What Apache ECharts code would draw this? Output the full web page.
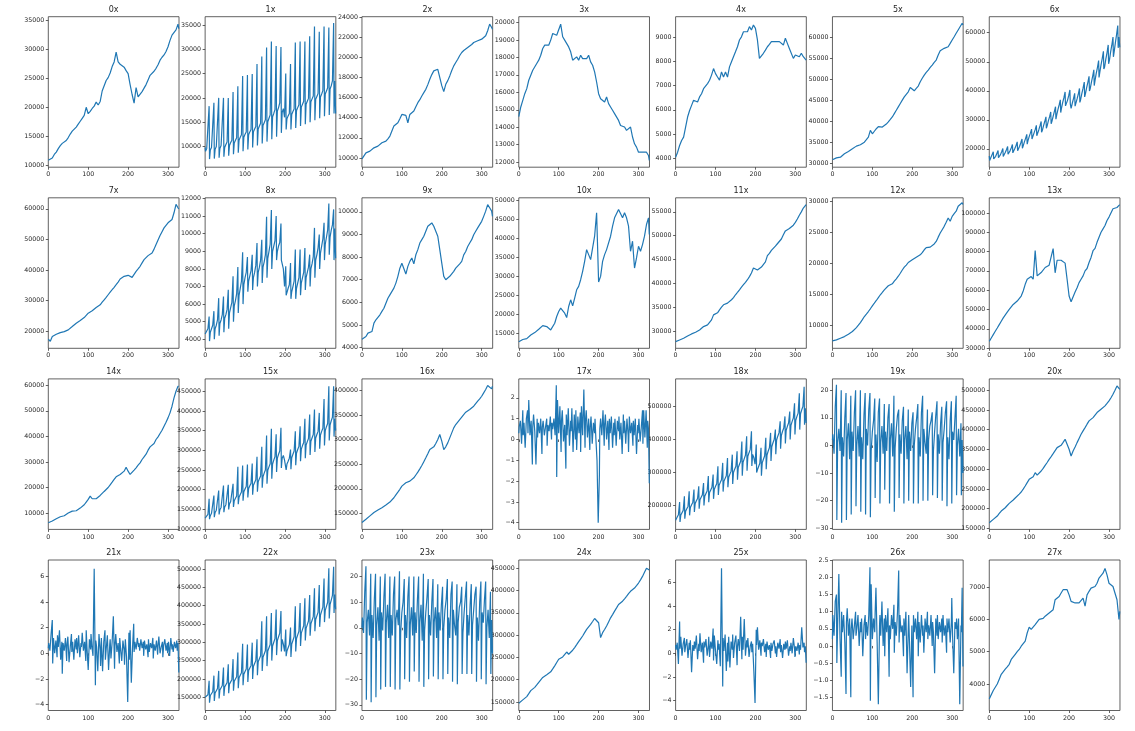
<!DOCTYPE html>
<html><head><meta charset="utf-8">
<script src="https://cdn.jsdelivr.net/npm/echarts@6/dist/echarts.min.js"></script>
<style>html,body{margin:0;padding:0;background:#fff}#c{width:1135px;height:731px}</style>
</head><body><div id="c"></div>
<script>
// x grids
const XS5 = [0,5,10,15,20,25,30,35,40,45,50,55,60,65,70,75,80,85,90,95,100,105,110,115,120,125,130,135,140,145,150,155,160,165,170,175,180,185,190,195,200,205,210,215,220,225,230,235,240,245,250,255,260,265,270,275,280,285,290,295,300,305,310,315,320,325,327];
const XSP = [0,
1,4,7,10,11, 13,16,19,22,23, 25,28,31,34,35, 37,40,43,46,47, 49,52,55,58,59, 61,64,67,70,71,
73,76,79,82,83, 85,88,91,94,95, 97,100,103,106,107, 109,112,115,118,119, 121,124,127,130,131,
133,136,139,142,143, 145,148,151,154,155, 157,160,163,166,167, 169,172,175,178,179, 181,184,187,190,191,
193,196,199,202,203, 205,208,211,214,215, 217,220,223,226,227, 229,232,235,238,239, 241,244,247,250,251,
253,256,259,262,263, 265,268,271,274,275, 277,280,283,286,287, 289,292,295,298,299, 301,304,307,310,311,
313,316,319,322,323, 325,327];

// series values
const S0 = [10900,10900,11300,11900,12300,12900,13400,13800,13900,14300,14800,15400,15900,16200,16600,17100,17600,18100,18600,20000,18900,19300,19800,20200,20900,20400,21000,22800,22900,24600,25100,25900,27000,27800,29500,27800,27400,27100,26900,26300,25800,23900,22200,20700,23400,21800,21900,22700,23300,23900,24700,25500,25400,26200,26700,27300,28100,28600,29000,29600,30400,31500,32400,32100,33300,34300,33500];
const S1 = [9800,
9000,9600,10000,18300,7400, 9300,9800,10200,19000,7500, 9400,10000,10400,20000,7700, 9600,10200,10600,20000,7900, 9800,10400,10900,20000,8100,
10200,10800,11300,21200,8400, 10700,11300,11800,22400,8700, 11300,11900,12400,24500,9000, 11900,12500,13000,24700,9400, 12400,13000,13500,24900,9800,
13000,13600,14100,27000,10200, 13600,14200,14800,28500,10600, 14300,14900,15500,30400,11000, 15100,15800,16500,31600,11500, 16100,16800,17600,30700,12000,
17300,18000,19000,30500,12800, 17000,17800,16000,25000,13500, 15700,16300,16800,27000,13500, 16600,17200,17700,31400,13800, 17400,18000,18600,31600,14200,
18100,18700,19300,31600,14600, 18700,19300,19900,32700,15000, 19200,19800,20400,34700,15400, 19700,20300,20900,33600,15800, 20200,20800,21500,34700,16200,
20800,21400,22100,34500,16500, 21800,22500,23500,35400,16800, 23500,16800];
const S2 = [9900,10200,10500,10600,10670,10800,11000,11100,11170,11300,11500,11600,11670,11900,12170,12670,13170,13300,13500,13900,14330,14170,14230,13500,14330,14400,14670,15100,15500,15800,16170,16500,16830,17300,17830,18300,18670,18800,18830,18670,17200,16600,17330,17700,18170,18700,19170,19500,19830,20200,20500,20700,20830,21000,21170,21300,21500,21600,21670,21750,21830,21700,22170,22670,23330,23000,22830];
const S3 = [14600,15160,15540,15920,16210,16690,16980,17260,17360,17650,17840,18120,18510,18700,18600,18700,18990,19370,19370,19270,19370,19900,19180,18990,18890,18600,18320,17840,17930,18030,17840,18120,17930,18030,17930,18120,17740,17550,17170,16590,15920,15630,15540,15440,15730,15350,15160,14970,14780,14680,14390,14100,14200,14010,13820,13720,14010,13440,13050,12860,12570,12480,12570,12480,12570,12380,12100];
const S4 = [4040,4250,4525,4730,4870,5280,5700,5970,6180,6390,6460,6320,6530,6660,6870,6940,7080,7220,7430,7700,7490,7350,7220,7560,7350,7560,7350,7770,7980,8190,8390,8600,8880,9010,9220,9150,9220,9430,9290,9500,9360,8880,8120,8050,8330,8460,8600,8700,8810,8880,8810,8740,8810,8740,8670,8950,8740,8530,8460,8120,8260,8330,8190,8330,8190,8120,8050];
const S5 = [30800,31000,31270,31350,31430,31800,32230,32500,32790,33100,33420,33750,34060,34200,34380,34700,35010,35600,36200,37800,37000,37600,38200,38700,39150,38600,38850,39300,39810,40400,41000,41800,42600,43400,44200,45000,45790,46400,46980,48020,47780,47220,47780,48340,49370,50200,50960,51600,52150,52800,53350,54000,54540,55740,56770,57100,57330,57500,57720,58500,59320,60100,60910,61710,62110,63300,62900];
const S6 = [17500,
16000,17000,18000,19000,16500, 16400,17400,18400,19400,16900, 16900,18000,19000,20100,17400, 17600,18700,19700,20800,18100, 18100,19300,20300,21500,18600,
18800,20100,21100,22400,19300, 19600,20900,22100,23400,20200, 21000,22400,23600,25000,21600, 22800,24200,25400,26800,23400, 23900,25400,26600,28100,24500,
25000,26500,27900,29400,25700, 26400,28000,29400,31000,27100, 27900,29600,31000,32700,28600, 29500,31200,32800,34500,30200, 31700,33500,35100,36900,32500,
34000,36000,37600,39600,34800, 34700,36700,38300,40300,35500, 33900,35700,37300,39100,34700, 35200,37200,38800,40800,36000, 37000,39100,40900,43000,37900,
39000,41100,42900,45000,39900, 40800,43000,45000,47200,41800, 43600,46000,48000,50400,44600, 46400,48900,51100,53600,47500, 48200,50900,53100,55800,49300,
50500,53300,55700,58500,51700, 53500,56600,59400,62500,54800, 58500,55000];
const S7 = [17260,16600,18140,18500,18900,19200,19450,19600,19780,20000,20330,20900,21420,22000,22520,23000,23400,23900,24380,25100,25810,26200,26580,27100,27680,28100,28560,29400,30200,31000,31850,32700,33490,34300,35140,36000,37000,37500,37880,38430,38210,37900,37550,37800,39520,40300,41170,42300,43360,44000,44670,45100,45550,46800,48290,49800,51250,52500,53770,54600,55420,55970,56520,58710,61450,60350,60000];
const S8 = [4300,
4200,4400,4600,5300,3900, 4400,4600,4800,5600,4000, 4600,4800,5100,6340,4200, 4900,5100,5400,6430,4400, 5200,5400,5700,6810,4600,
5500,5800,6100,7580,5000, 5900,6200,6600,8110,5500, 6500,6900,7300,8940,6000, 7100,7500,7800,8680,6700, 7300,7600,7900,8800,6800,
7500,7800,8200,9470,7000, 7800,8100,8500,9660,7200, 8100,8400,8800,10960,7500, 8600,9000,9400,11340,8000, 9000,9300,9600,11000,8500,
9000,9300,9500,10580,8500, 8400,8000,7000,8150,6500, 6600,6900,7100,8340,6300, 6700,7000,7300,9100,6300, 6900,7200,7500,9100,6500,
7200,7500,7800,9190,6800, 7500,7800,8100,8810,7000, 8000,8300,8700,10330,7500, 8500,8800,9200,9950,8000, 8900,9300,9700,10620,8500,
9400,9800,10200,11720,8800, 9800,10200,10500,11380,8500, 10300,8600];
const S9 = [4370,4340,4490,4640,4640,4710,5080,5230,5300,5450,5600,5740,5960,6180,6330,6400,6630,6850,7150,7510,7730,7660,7250,7590,7810,7960,7700,8100,8330,8620,8770,8920,9140,9360,9430,9510,9360,9290,8920,8330,7730,7150,7000,7030,7150,7220,7370,7510,7590,7700,7810,8100,8250,8470,8620,8770,8990,9140,9290,9360,9580,9800,10030,10320,10180,10030,9800];
const S10 = [12760,13200,13370,13450,13590,14030,14560,15000,15180,15440,16060,16320,17020,16760,16760,16320,15880,16300,17640,19400,20720,21600,22040,20280,19140,22040,23800,22220,24240,26440,27320,29080,31280,33920,37000,35680,34360,37440,40520,46700,28500,29960,33920,35680,37000,37440,40520,43160,45360,45800,47560,47120,45360,46680,45360,43160,36560,39200,32160,34800,37880,36560,38320,40520,43600,45360,40960];
const S11 = [27750,27900,28100,28300,28450,28700,28950,29150,29370,29550,29720,29950,30210,30600,30910,31050,31260,31800,32320,33370,33020,33800,34430,35000,35480,35600,35830,36200,36540,37000,37590,38100,38640,39200,39700,40200,40750,41400,42150,43210,43000,42800,42600,43400,43700,44500,45800,46300,46900,47300,47800,48300,48700,49300,50200,51000,51300,51500,51700,52200,52800,53500,54300,55000,55800,56300,56500];
const S12 = [7480,7550,7630,7750,7900,8030,8170,8350,8540,8750,8980,9300,9620,10000,10430,10900,11400,11800,12210,12650,13130,13550,13990,14450,14910,15300,15710,16000,16360,16630,16680,17100,17490,17900,18380,18900,19350,19700,20110,20300,20540,20750,20970,21150,21350,21700,22160,22500,22800,22590,22700,23100,23510,24200,24860,25400,25940,26600,27290,26750,27550,28000,28380,29190,29300,29730,29460];
const S13 = [33480,35220,36960,38700,40430,42170,43910,45650,46520,48610,50000,50870,52610,53480,54350,55220,56960,59570,63040,65650,66520,67040,65650,80500,67390,68260,69130,68260,71740,72600,72950,73480,81500,69000,75500,74500,75500,75000,74000,65650,56960,54000,55000,59000,61300,63910,65650,67390,70000,71220,74350,76960,80430,81650,84780,87390,90000,91740,93480,96090,97830,98700,102170,103040,102800,103910,104260];
const S14 = [6220,6900,6900,7270,7790,8180,8570,8830,8960,9350,10000,10260,10780,10850,10910,11430,11950,12470,13260,14300,15340,16640,15600,15080,15600,16250,16900,17550,18460,19240,20000,21060,22100,23150,24190,24710,25100,25750,26400,27960,26400,25100,25750,26800,27700,28740,29650,30950,32000,33040,34600,35900,36160,37200,38770,39810,41110,42410,43980,45540,47230,49190,51790,55050,57650,59600,59600];
const S15 = [128000,
127000,132000,137000,176700,125000, 134000,140000,145000,185200,130000, 142000,148000,153000,197900,137000, 149000,155000,160000,210600,143000, 156000,162000,167000,212300,150000,
164000,170000,175000,214800,156000, 172000,178000,184000,258000,163000, 181000,188000,194000,261400,172000, 195000,202000,208000,264000,180000, 203000,210000,216000,266400,187000,
211000,218000,225000,283300,195000, 220000,228000,235000,308700,205000, 233000,242000,250000,337500,215000, 249000,258000,266000,354400,228000, 265000,275000,284000,340900,245000,
280000,290000,298000,357000,255000, 280000,287000,275000,276600,250000, 265000,272000,280000,302000,252000, 281000,290000,298000,348500,262000, 293000,302000,310000,361200,272000,
303000,312000,320000,379800,280000, 313000,322000,330000,390800,288000, 323000,332000,340000,403500,296000, 331000,340000,348000,395000,304000, 339000,348000,356000,430500,312000,
350000,360000,368000,462700,325000, 364000,375000,384000,462700,335000, 380000,350000];
const S16 = [131500,135000,138200,141500,145000,148500,151800,154300,156800,159000,161500,164200,167000,170000,173000,177000,181800,187500,193200,199000,205400,209000,212200,214000,215500,219000,222300,228000,233800,240500,247300,255000,262800,271000,279700,282500,285100,292000,300000,310100,296600,279700,285100,293200,303300,313500,323600,330400,333800,340500,343900,350700,355400,354100,360800,364200,367600,370900,377700,382400,387800,394600,401400,409500,411500,402700,408100];
const S17 = [0.3,
0.6,0.9,-0.2,1.4,0.2, 0.8,-0.4,1.0,1.4,0.3, 1.9,0.2,0.9,-1.2,0.6, 1.2,0.4,-1.2,1.0,0.1, 0.8,0.3,1.0,-0.7,0.6,
0.9,0.2,0.6,1.0,-0.3, 0.7,0.4,1.1,0.0,0.8, 0.5,1.0,0.2,2.6,-1.8, 1.9,0.3,1.6,-0.6,0.9, 1.4,-0.1,0.7,-1.4,1.2,
0.2,1.5,-0.3,0.9,0.4, 1.5,-0.6,1.2,0.0,1.4, -0.5,1.1,0.3,1.3,-0.6, 1.6,0.2,2.4,-0.4,0.9, 1.4,0.1,1.0,-0.5,0.6,
1.1,-0.2,0.8,0.3,1.0, 0.1,-1.0,-4.0,-1.7,0.5, 1.0,0.2,1.4,-0.3,0.7, 1.2,0.0,0.9,-0.5,1.0, 0.3,1.1,-0.4,0.8,0.2,
1.0,-0.3,0.9,0.4,1.1, 0.0,0.8,-0.7,1.2,0.3, 0.9,-0.2,1.0,0.2,-0.6, 1.1,0.3,0.8,-0.3,0.9, 0.2,1.0,-0.7,0.7,0.3,
1.0,-0.1,0.6,1.4,-0.2, 1.4,0.1,1.4,-0.4,0.9, 0.5,-2.1];
const S18 = [155000,
158000,165000,172000,210000,150000, 171000,178000,185000,228000,160000, 182000,190000,197000,243000,170000, 194000,202000,209000,248000,180000, 206000,214000,221000,258000,190000,
217000,225000,232000,268000,200000, 228000,236000,244000,289000,210000, 239000,247000,255000,294000,220000, 249000,258000,266000,319000,232000, 261000,270000,278000,329000,242000,
273000,282000,290000,344000,255000, 285000,295000,304000,354000,265000, 300000,310000,319000,364000,278000, 315000,325000,334000,394000,290000, 331000,342000,352000,410000,305000,
349000,360000,370000,425000,320000, 355000,345000,325000,385000,300000, 308000,318000,328000,375000,290000, 329000,340000,350000,405000,310000, 353000,365000,375000,420000,335000,
378000,390000,400000,430000,355000, 398000,410000,420000,455000,372000, 413000,425000,435000,470000,388000, 428000,440000,450000,485000,400000, 443000,455000,465000,510000,415000,
458000,470000,480000,540000,430000, 478000,490000,500000,560000,445000, 495000,450000];
const S19 = [2,
4,-3,14,22,-27, 1,6,-2,20,-28, 3,-4,10,19,-27, 2,8,-5,18,-25, 5,-2,12,20,-22,
0,7,-4,20,-24, 3,-5,11,19,-25, 6,0,13,19,-26, -2,5,9,17,-19, 4,-6,12,17,-21,
1,7,-3,15,-16, 5,-2,10,15,-21, 2,8,-4,18,-24, -1,6,11,13,-19, 4,-3,9,14,-21,
2,7,-5,13,-20, 5,-2,8,12,-21, 0,6,10,15,-21, 3,-4,12,18,-20, 6,1,-3,13,-20,
2,7,9,12,-18, -2,5,11,16,-19, 4,-3,8,14,-20, 1,6,12,16,-22, 3,-5,9,16,-21,
5,2,10,18,-18, 0,6,-4,8,-18, 2,-10];
const S20 = [164400,168500,172900,177000,181300,188000,194000,198000,202400,208000,213400,217500,221900,227000,232000,237000,242200,249500,257400,266000,274300,278000,281100,291200,285000,290000,295400,302000,309800,317000,325000,332000,339400,347000,354600,357500,360500,368000,375700,376500,350400,333500,346200,356000,367300,378000,388400,397000,405400,414000,422300,426500,430700,437000,443400,447500,451900,456000,460300,466500,473000,481000,489900,500000,511000,508500,502000];
const S21 = [0.4,
0.8,0.2,1.5,2.6,-0.8, 1.2,0.0,1.0,-0.3,1.4, 0.5,1.8,-0.5,0.9,-1.6, 0.8,0.2,1.2,-0.6,0.7, 1.3,-0.7,0.5,1.5,0.1,
0.9,-0.5,1.1,0.3,1.2, 0.0,1.4,-0.3,0.8,0.5, 1.6,0.2,0.9,-0.6,1.8, 0.4,-1.3,1.1,0.3,1.5, 0.6,-0.2,6.6,-2.5,1.0,
0.5,-1.4,1.5,0.2,-1.0, 1.2,-1.4,0.9,1.8,-0.5, 0.3,1.4,-1.3,0.7,1.1, -0.4,0.9,2.9,-1.2,0.6, 1.5,0.1,0.8,-0.8,1.2,
0.4,-0.6,1.0,0.2,-0.9, 1.1,-0.3,-3.8,1.6,-0.5, 1.8,-2.3,0.4,2.3,0.1, 0.9,0.3,1.2,0.5,0.8, 0.2,1.1,0.4,0.9,-0.2,
1.0,0.3,0.7,-0.3,1.1, 0.1,0.8,0.4,1.2,-0.4, 0.7,0.2,1.0,-0.1,0.6, 1.3,0.0,0.5,0.9,-0.3, 0.6,1.1,0.2,0.8,0.0,
0.9,-0.2,1.2,0.3,0.7, 0.1,0.9,0.4,1.0,0.2, 0.8,-1.5];
const S22 = [150000,
147000,152000,157000,195000,135000, 155000,160000,165000,209000,140000, 162000,168000,174000,222000,147000, 170000,176000,182000,231000,154000, 178000,184000,190000,240000,161000,
186000,192000,198000,254000,168000, 194000,200000,206000,272000,175000, 203000,210000,217000,296000,183000, 213000,220000,227000,294000,192000, 223000,230000,237000,299000,200000,
234000,242000,250000,308000,210000, 247000,255000,263000,357000,222000, 259000,268000,277000,371000,235000, 276000,285000,294000,380000,250000, 290000,300000,310000,389000,265000,
305000,315000,325000,385000,275000, 308000,295000,275000,335000,262000, 276000,285000,294000,340000,260000, 295000,305000,315000,398000,275000, 310000,320000,330000,407000,290000,
325000,335000,345000,420000,305000, 338000,348000,358000,429000,318000, 350000,360000,370000,447000,330000, 362000,372000,382000,456000,342000, 374000,385000,396000,474000,355000,
387000,398000,409000,502000,365000, 403000,415000,428000,506000,380000, 430000,390000];
const S23 = [0,
4,-2,14,24,-28, 2,7,-3,21,-29, 5,-4,11,21,-27, 1,8,-5,20,-24, 6,-1,12,21,-23,
2,9,-4,20,-23, 5,-3,13,20,-24, 3,7,1,22,-24, -2,6,10,19,-20, 5,-4,12,20,-21,
1,8,-3,20,-17, 6,-2,11,20,-21, 2,9,-5,21,-23, -1,6,12,19,-20, 5,-3,10,19,-19,
2,8,-4,17,-20, 6,-1,9,16,-20, 0,7,11,19,-18, 4,-4,13,18,-21, 7,1,-3,17,-22,
2,8,10,16,-18, -2,6,12,18,-18, 5,-3,9,17,-18, 1,7,13,16,-21, 4,-5,10,18,-20,
6,2,11,18,-22, 0,7,-4,14,-18, 3,-10];
const S24 = [147000,150500,154500,158000,161900,168500,175300,179000,182700,188000,193900,199500,205000,208000,211000,214000,217600,224000,231000,238500,245800,248500,251000,253000,262000,257000,260700,266000,271900,278500,285200,291500,297900,305500,312800,318500,323900,330500,337300,340300,327700,294300,305400,312500,320300,329500,338800,346000,353700,361000,368600,372500,376000,381500,387100,393000,398300,402000,405700,411000,416900,424000,431800,441000,450300,451000,446300];
const S25 = [0.7,
0.3,0.9,-0.9,2.7,0.4, 1.4,-0.2,0.8,1.3,0.1, 0.6,1.2,-0.4,0.9,0.3, 1.1,-1.6,0.7,0.2,1.0, 0.4,1.5,-0.5,0.8,0.2,
1.7,0.1,0.9,-0.8,1.0, 0.5,1.2,-0.2,0.7,1.4, -0.3,1.0,0.4,2.1,-0.6, 1.5,0.2,-0.9,1.1,0.3, 0.8,-1.1,7.2,-2.8,1.3,
0.2,1.6,-1.5,0.9,-0.7, 1.4,-1.2,1.0,0.3,1.6, -0.4,0.9,1.5,-1.0,0.6, 1.2,0.2,3.1,-0.5,1.4, 0.3,2.9,-0.2,1.1,0.5,
1.3,-0.3,0.6,1.0,0.1, 0.8,-1.5,-4.2,2.0,0.7, 2.2,0.3,1.1,-0.2,0.9, 0.6,1.2,0.1,0.8,-0.3, 1.0,0.3,0.7,-0.4,0.9,
0.2,0.8,1.1,0.0,0.6, -0.3,0.9,0.4,1.2,0.1, 0.7,-0.4,0.8,0.3,1.0, 0.4,1.1,-0.2,0.6,0.2, 0.9,0.0,1.3,0.4,-0.3,
0.6,0.2,0.9,-0.1,0.7, 0.3,2.2,0.5,0.9,0.1, 0.6,-0.8];
const S26 = [0.2,
0.9,0.3,1.3,1.5,-0.5, 0.6,2.1,0.2,-0.9,1.0, 0.4,0.9,0.1,-1.4,0.7, 1.1,0.3,0.8,-1.5,0.5, 0.8,0.2,0.6,1.0,0.3,
0.5,0.9,0.0,0.7,0.4, 0.8,-0.3,0.6,0.9,0.2, 0.7,0.3,0.9,2.3,-1.6, 1.8,0.2,0.8,0.4,1.0, 1.7,0.1,-1.7,0.6,0.9,
0.3,1.3,0.0,0.8,-0.3, 0.9,0.4,1.1,-0.9,0.6, 0.2,0.9,0.5,1.2,-0.2, 0.7,0.3,1.0,2.2,0.1, 0.9,0.4,0.6,-0.3,0.8,
0.3,1.0,-0.8,0.5,0.9, 0.1,-1.2,0.6,-1.5,0.9, 0.4,0.8,0.2,1.0,-0.3, 0.7,0.1,0.9,0.3,0.6, -0.2,0.8,0.4,1.0,0.2,
0.6,0.3,0.9,0.0,0.7, 0.4,-0.8,0.8,0.3,0.9, 0.2,0.7,0.4,0.8,0.1, 0.9,0.3,0.6,-0.2,0.8, 0.4,0.8,0.1,0.7,1.4,
0.3,-0.8,0.7,0.5,0.8, 0.2,0.8,-1.7,0.6,0.4, 1.7,-0.6];
const S27 = [3540,3590,3800,3900,4000,4150,4300,4350,4460,4530,4610,4760,4840,4920,5000,5070,5170,5220,5330,5580,5760,5690,5740,5840,5790,6000,5950,6030,6100,6150,6200,6250,6300,6610,6660,6710,6820,6920,6970,6920,6760,6560,6510,6510,6460,6510,6560,6660,6410,6760,6870,6970,7020,7020,7120,7280,7330,7430,7580,7380,7120,7070,7020,6970,6610,6000,6250];

// tick labels (y) and axis limits
const XTICKS = [0,100,200,300];
const T0 = [10000,15000,20000,25000,30000,35000], L0 = [9707,35569];
const T1 = [10000,15000,20000,25000,30000,35000], L1 = [5730,36720];
const T2 = [10000,12000,14000,16000,18000,20000,22000,24000], L2 = [9070,24070];
const T3 = [12000,13000,14000,15000,16000,17000,18000,19000,20000], L3 = [11710,20330];
const T4 = [4000,5000,6000,7000,8000,9000], L4 = [3630,9840];
const T5 = [30000,35000,40000,45000,50000,55000,60000], L5 = [29045,64860];
const T6 = [20000,30000,40000,50000,60000], L6 = [13660,65530];
const T7 = [20000,30000,40000,50000,60000], L7 = [14300,63620];
const T8 = [4000,5000,6000,7000,8000,9000,10000,11000,12000], L8 = [3490,12040];
const T9 = [4000,5000,6000,7000,8000,9000,10000], L9 = [3970,10620];
const T10 = [15000,20000,25000,30000,35000,40000,45000,50000], L10 = [11050,50620];
const T11 = [30000,35000,40000,45000,50000,55000], L11 = [26350,57950];
const T12 = [10000,15000,20000,25000,30000], L12 = [6280,30540];
const T13 = [30000,40000,50000,60000,70000,80000,90000,100000], L13 = [29900,107830];
const T14 = [10000,20000,30000,40000,50000,60000], L14 = [3620,62470];
const T15 = [100000,150000,200000,250000,300000,350000,400000,450000], L15 = [99150,481300];
const T16 = [150000,200000,250000,300000,350000,400000], L16 = [117600,423000];
const T17 = [-4,-3,-2,-1,0,1,2], L17 = [-4.32,2.91];
const T18 = [200000,300000,400000,500000], L18 = [127300,583800];
const T19 = [-30,-20,-10,0,10,20], L19 = [-30.4,24.1];
const T20 = [150000,200000,250000,300000,350000,400000,450000,500000], L20 = [147500,528700];
const T21 = [-4,-2,0,2,4,6], L21 = [-4.47,7.29];
const T22 = [150000,200000,250000,300000,350000,400000,450000,500000], L22 = [114000,524300];
const T23 = [-30,-20,-10,0,10,20], L23 = [-32.2,26.4];
const T24 = [150000,200000,250000,300000,350000,400000,450000], L24 = [130700,468600];
const T25 = [-4,-2,0,2,4,6], L25 = [-4.84,7.9];
const T26 = [-1.5,-1.0,-0.5,0.0,0.5,1.0,1.5,2.0,2.5], L26 = [-1.885,2.51];
const T27 = [4000,5000,6000,7000], L27 = [3180,7840];

const PANELS = [
  {t:'0x',x:XS5,y:S0,k:T0,l:L0},{t:'1x',x:XSP,y:S1,k:T1,l:L1},{t:'2x',x:XS5,y:S2,k:T2,l:L2},{t:'3x',x:XS5,y:S3,k:T3,l:L3},
  {t:'4x',x:XS5,y:S4,k:T4,l:L4},{t:'5x',x:XS5,y:S5,k:T5,l:L5},{t:'6x',x:XSP,y:S6,k:T6,l:L6},
  {t:'7x',x:XS5,y:S7,k:T7,l:L7},{t:'8x',x:XSP,y:S8,k:T8,l:L8},{t:'9x',x:XS5,y:S9,k:T9,l:L9},{t:'10x',x:XS5,y:S10,k:T10,l:L10},
  {t:'11x',x:XS5,y:S11,k:T11,l:L11},{t:'12x',x:XS5,y:S12,k:T12,l:L12},{t:'13x',x:XS5,y:S13,k:T13,l:L13},
  {t:'14x',x:XS5,y:S14,k:T14,l:L14},{t:'15x',x:XSP,y:S15,k:T15,l:L15},{t:'16x',x:XS5,y:S16,k:T16,l:L16},{t:'17x',x:XSP,y:S17,k:T17,l:L17},
  {t:'18x',x:XSP,y:S18,k:T18,l:L18},{t:'19x',x:XSP,y:S19,k:T19,l:L19},{t:'20x',x:XS5,y:S20,k:T20,l:L20},
  {t:'21x',x:XSP,y:S21,k:T21,l:L21},{t:'22x',x:XSP,y:S22,k:T22,l:L22},{t:'23x',x:XSP,y:S23,k:T23,l:L23},{t:'24x',x:XS5,y:S24,k:T24,l:L24},
  {t:'25x',x:XSP,y:S25,k:T25,l:L25},{t:'26x',x:XSP,y:S26,k:T26,l:L26},{t:'27x',x:XS5,y:S27,k:T27,l:L27}
];

// layout
const COL0 = 48.3, COLSTEP = 156.83, PW = 130.7;
const ROW0 = 16.7, ROWSTEP = 181.1, PH = 150.5;
const XMAX = 327.5;
const FONT = 'DejaVu Sans';
const TXT = '#262626', SPINE = '#3a3a3a';

function fmt(v, dec) {
  const s = dec ? v.toFixed(1) : String(v);
  return s.replace('-', '\u2212');
}

const grid = [], xAxis = [], yAxis = [], series = [], graphic = [];
PANELS.forEach((p, i) => {
  const r = Math.floor(i / 7), c = i % 7;
  const left = COL0 + COLSTEP * c, top = ROW0 + ROWSTEP * r;
  grid.push({left: left, top: top, width: PW, height: PH, show: true,
    borderColor: SPINE, borderWidth: 0.8, backgroundColor: '#fff', containLabel: false});
  xAxis.push({type: 'value', gridIndex: i, min: 0, max: XMAX,
    axisLine: {show: false}, splitLine: {show: false},
    axisTick: {show: true, length: 2.5, lineStyle: {color: SPINE, width: 0.8}, customValues: XTICKS},
    axisLabel: {customValues: XTICKS, fontSize: 6.3, color: TXT, margin: 4.5, fontFamily: FONT}});
  const dec = p.k.some(v => Math.abs(v % 1) > 0);
  yAxis.push({type: 'value', gridIndex: i, min: p.l[0], max: p.l[1],
    axisLine: {show: false}, splitLine: {show: false},
    axisTick: {show: true, length: 2.5, lineStyle: {color: SPINE, width: 0.8}, customValues: p.k},
    axisLabel: {customValues: p.k, fontSize: 6.3, color: TXT, margin: 4, fontFamily: FONT,
      formatter: v => fmt(v, dec)}});
  const n = Math.min(p.x.length, p.y.length);
  if (p.x.length !== p.y.length) console.warn('length mismatch', p.t, p.x.length, p.y.length);
  const data = [];
  for (let j = 0; j < n; j++) data.push([p.x[j], p.y[j]]);
  series.push({type: 'line', xAxisIndex: i, yAxisIndex: i, data: data, symbol: 'none',
    showSymbol: false, silent: true, clip: true,
    lineStyle: {width: 1.2, color: '#1f77b4'}});
  graphic.push({type: 'text', x: left + PW / 2, y: top - 6.8, silent: true,
    style: {text: p.t, textAlign: 'center', textVerticalAlign: 'middle',
      fontSize: 8, fontFamily: FONT, fill: TXT}});
});

const chart = echarts.init(document.getElementById('c'), null, {renderer: 'canvas'});
chart.setOption({animation: false, backgroundColor: '#fff', grid, xAxis, yAxis, series, graphic});
</script></body></html>
